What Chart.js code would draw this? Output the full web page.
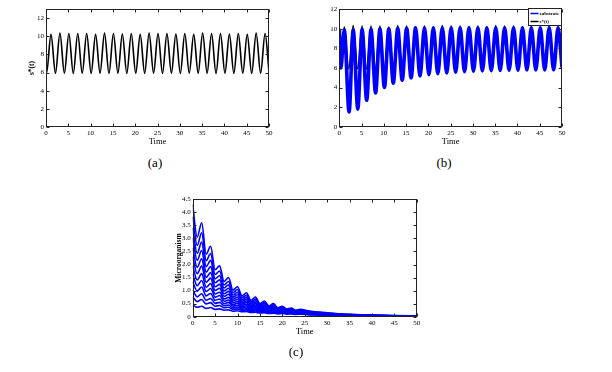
<!DOCTYPE html>
<html>
<head>
<meta charset="utf-8">
<script src="https://cdn.jsdelivr.net/npm/chart.js@4.4.1/dist/chart.umd.min.js"></script>
<style>
  html, body { margin: 0; padding: 0; background: #fff; }
  body { width: 612px; height: 372px; position: relative; overflow: hidden; }
  canvas { position: absolute; }
  .cap { position: absolute; font-family: 'Liberation Serif', 'DejaVu Serif', serif; font-size: 13px; color: #000; transform: translate(-50%, -50%); white-space: nowrap; }
</style>
</head>
<body>
<canvas id="ca" width="300" height="150" style="left:0px;top:0px;width:300px;height:150px"></canvas>
<canvas id="cb" width="300" height="150" style="left:310px;top:0px;width:300px;height:150px"></canvas>
<canvas id="cc" width="300" height="187" style="left:150px;top:185px;width:300px;height:187px"></canvas>
<div class="cap" style="left:155px;top:163px">(a)</div>
<div class="cap" style="left:444px;top:163px">(b)</div>
<div class="cap" style="left:296px;top:352px">(c)</div>
<script>
// ---------- DATA ----------
// s*(t): extreme points (time, value)
const sTime = [0,0.12,1.12,2.12,3.12,4.12,5.12,6.12,7.12,8.12,9.12,10.12,11.12,12.12,13.12,14.12,15.12,16.12,17.12,18.12,19.12,20.12,21.12,22.12,23.12,24.12,25.12,26.12,27.12,28.12,29.12,30.12,31.12,32.12,33.12,34.12,35.12,36.12,37.12,38.12,39.12,40.12,41.12,42.12,43.12,44.12,45.12,46.12,47.12,48.12,49.12,50];
const sValues = [6.0,5.95,10.2,5.9,10.35,5.92,10.3,5.9,10.3,5.93,10.3,5.9,10.2,5.92,10.35,5.9,10.3,5.93,10.25,5.9,10.3,5.92,10.2,5.9,10.35,5.93,10.3,5.9,10.3,5.92,10.25,5.9,10.3,5.93,10.2,5.9,10.35,5.92,10.3,5.9,10.3,5.93,10.25,5.9,10.3,5.92,10.2,5.9,10.35,5.92,10.3,6.1];

// substrate: extreme points
const subTime = [0,0.35,1.12,2.2,3.12,4.15,5.12,6.15,7.12,8.15,9.12,10.13,11.12,12.12,13.12,14.12,15.12,16.12,17.12,18.12,19.12,20.12,21.12,22.12,23.12,24.12,25.12,26.12,27.12,28.12,29.12,30.12,31.12,32.12,33.12,34.12,35.12,36.12,37.12,38.12,39.12,40.12,41.12,42.12,43.12,44.12,45.12,46.12,47.12,48.12,49.12,50];
const subValues = [10.0,6.0,9.9,1.5,9.9,1.8,9.95,2.7,9.95,3.45,10.0,4.0,10.0,4.45,10.05,4.75,10.05,5.0,10.1,5.18,10.1,5.32,10.1,5.42,10.1,5.5,10.1,5.57,10.1,5.63,10.1,5.67,10.1,5.7,10.1,5.73,10.1,5.75,10.1,5.77,10.1,5.78,10.1,5.8,10.1,5.8,10.1,5.81,10.1,5.82,10.1,6.05];

// microorganism curves, panel (c)
const cTime = [0,1,2,3,4,5,6,7,8,9,10,11,12,13,14,15,16,17,18,19,20,21,22,23,24,26,28,30,33,36,40,45,50];
const m1  = [4.30,3.05,3.60,2.40,2.70,1.80,1.95,1.35,1.50,1.02,1.15,0.80,0.92,0.63,0.75,0.50,0.60,0.41,0.50,0.34,0.40,0.29,0.33,0.25,0.28,0.22,0.18,0.15,0.11,0.085,0.06,0.04,0.03];
const m2  = [3.84,2.73,3.22,2.15,2.42,1.62,1.75,1.22,1.35,0.92,1.04,0.73,0.83,0.57,0.68,0.46,0.55,0.38,0.46,0.31,0.37,0.27,0.30,0.23,0.26,0.20,0.17,0.14,0.10,0.08,0.056,0.038,0.028];
const m3  = [3.41,2.43,2.86,1.92,2.16,1.45,1.57,1.10,1.22,0.83,0.94,0.66,0.75,0.52,0.62,0.42,0.50,0.34,0.42,0.29,0.34,0.25,0.28,0.21,0.24,0.19,0.15,0.13,0.094,0.074,0.052,0.035,0.027];
const m4  = [3.03,2.16,2.54,1.71,1.92,1.30,1.41,0.99,1.09,0.75,0.85,0.60,0.68,0.48,0.56,0.38,0.45,0.31,0.38,0.26,0.31,0.23,0.26,0.20,0.22,0.17,0.14,0.12,0.087,0.069,0.048,0.033,0.025];
const m5  = [2.64,1.89,2.22,1.51,1.69,1.15,1.24,0.88,0.97,0.67,0.75,0.54,0.61,0.43,0.50,0.35,0.41,0.29,0.34,0.24,0.28,0.21,0.24,0.18,0.20,0.16,0.13,0.11,0.080,0.064,0.045,0.031,0.024];
const m6  = [2.30,1.65,1.94,1.32,1.48,1.01,1.09,0.78,0.86,0.60,0.67,0.48,0.55,0.39,0.45,0.31,0.37,0.26,0.31,0.22,0.25,0.19,0.22,0.17,0.18,0.14,0.12,0.10,0.074,0.059,0.042,0.030,0.022];
const m7  = [1.95,1.41,1.65,1.13,1.27,0.87,0.94,0.68,0.74,0.53,0.59,0.43,0.48,0.34,0.40,0.28,0.33,0.23,0.27,0.20,0.23,0.17,0.20,0.15,0.17,0.13,0.11,0.089,0.067,0.055,0.039,0.028,0.021];
const m8  = [1.64,1.19,1.39,0.97,1.08,0.75,0.81,0.59,0.64,0.46,0.52,0.38,0.42,0.31,0.35,0.25,0.29,0.21,0.25,0.18,0.21,0.16,0.18,0.14,0.15,0.12,0.097,0.081,0.062,0.051,0.036,0.026,0.020];
const m9  = [1.34,0.98,1.14,0.80,0.89,0.63,0.68,0.50,0.55,0.40,0.44,0.33,0.37,0.27,0.30,0.22,0.25,0.19,0.22,0.16,0.18,0.14,0.16,0.13,0.14,0.105,0.088,0.073,0.056,0.047,0.033,0.025,0.018];
const m10 = [1.03,0.76,0.88,0.63,0.70,0.51,0.55,0.42,0.45,0.33,0.37,0.28,0.31,0.23,0.26,0.19,0.22,0.16,0.19,0.15,0.16,0.13,0.14,0.11,0.12,0.093,0.078,0.065,0.051,0.043,0.030,0.023,0.017];
const m11 = [0.76,0.58,0.66,0.49,0.54,0.40,0.43,0.34,0.36,0.28,0.30,0.24,0.26,0.20,0.22,0.17,0.19,0.14,0.16,0.13,0.14,0.12,0.13,0.10,0.11,0.082,0.070,0.058,0.046,0.039,0.028,0.022,0.016];
const m12 = [0.45,0.36,0.40,0.32,0.35,0.28,0.30,0.25,0.26,0.21,0.23,0.19,0.20,0.16,0.17,0.14,0.15,0.12,0.13,0.11,0.12,0.10,0.11,0.09,0.095,0.07,0.06,0.05,0.04,0.035,0.025,0.02,0.015];
const microSeries = [m1,m2,m3,m4,m5,m6,m7,m8,m9,m10,m11,m12];

// ---------- HELPERS ----------
const SERIF = "'Liberation Serif', 'DejaVu Serif', serif";
const toXY = (xs, ys) => xs.map((x, i) => ({x: x, y: ys[i]}));

const framePlugin = {
  id: 'frame',
  afterDatasetsDraw(chart) {
    const {ctx, chartArea} = chart;
    const l = Math.round(chartArea.left) + 0.5, r = Math.round(chartArea.right) - 0.5;
    const t = Math.round(chartArea.top) + 0.5, b = Math.round(chartArea.bottom) - 0.5;
    const xs = chart.scales.x, ys = chart.scales.y;
    ctx.save();
    ctx.strokeStyle = '#222';
    ctx.lineWidth = 1;
    ctx.strokeRect(l, t, r - l, b - t);
    ctx.beginPath();
    xs.ticks.forEach(tk => {
      const p = Math.round(xs.getPixelForValue(tk.value)) + 0.5;
      ctx.moveTo(p, b); ctx.lineTo(p, b - 3);
      ctx.moveTo(p, t); ctx.lineTo(p, t + 3);
    });
    ys.ticks.forEach(tk => {
      const p = Math.round(ys.getPixelForValue(tk.value)) + 0.5;
      ctx.moveTo(l, p); ctx.lineTo(l + 3, p);
      ctx.moveTo(r, p); ctx.lineTo(r - 3, p);
    });
    ctx.stroke();
    ctx.restore();
  }
};

const legendPlugin = {
  id: 'boxLegend',
  afterDraw(chart) {
    const {ctx, chartArea} = chart;
    const w = 33, h = 17;
    const x0 = Math.round(chartArea.right) - w - 0.5, y0 = Math.round(chartArea.top) - 0.5;
    ctx.save();
    ctx.fillStyle = '#fff';
    ctx.fillRect(x0, y0, w, h);
    ctx.strokeStyle = '#222';
    ctx.lineWidth = 1;
    ctx.strokeRect(x0, y0, w, h);
    ctx.font = 'bold 5px ' + SERIF;
    ctx.textBaseline = 'middle';
    ctx.textAlign = 'left';
    chart.data.datasets.forEach((ds, i) => {
      const yy = y0 + 5 + i * 8;
      ctx.strokeStyle = ds.borderColor;
      ctx.lineWidth = 1.5;
      ctx.beginPath(); ctx.moveTo(x0 + 2, yy); ctx.lineTo(x0 + 10, yy); ctx.stroke();
      ctx.fillStyle = '#000';
      ctx.fillText(ds.label, x0 + 11, yy);
    });
    ctx.restore();
  }
};

function axes(ymax, ystep, ytitle, ytitlePad) {
  return {
    x: {
      type: 'linear', min: 0, max: 50,
      grid: { display: false, drawTicks: false },
      border: { display: false },
      ticks: { stepSize: 5, padding: 2, color: '#000', font: { family: SERIF, size: 7 }, maxRotation: 0 },
      title: { display: true, text: 'Time', color: '#000', font: { family: SERIF, size: 8.5 }, padding: 0 },
      afterFit(s) { s.height = 20; }
    },
    y: {
      type: 'linear', min: 0, max: ymax,
      grid: { display: false, drawTicks: false },
      border: { display: false },
      ticks: { stepSize: ystep, includeBounds: false, padding: 2, color: '#000', font: { family: SERIF, size: 7 } },
      title: { display: !!ytitle, text: ytitle || '', color: '#000', font: { family: SERIF, size: 7.5, weight: 'bold' }, padding: { top: ytitlePad, bottom: 0 } },
      afterFit(s) { s.width = 20; }
    }
  };
}

function baseOptions(padding, scales) {
  return {
    responsive: false, animation: false, devicePixelRatio: 1,
    layout: { padding: padding },
    plugins: { legend: { display: false }, tooltip: { enabled: false } },
    elements: { point: { radius: 0 }, line: { cubicInterpolationMode: 'monotone', tension: 0.4 } },
    scales: scales
  };
}

// ---------- (a) ----------
new Chart(document.getElementById('ca'), {
  type: 'line',
  data: { datasets: [{ label: 's*(t)', data: toXY(sTime, sValues), borderColor: '#000', borderWidth: 1.6 }] },
  options: baseOptions({ left: 26, top: 9, right: 31, bottom: 3 }, axes(13, 2, 's*(t)', 1.5)),
  plugins: [framePlugin]
});

// ---------- (b) ----------
new Chart(document.getElementById('cb'), {
  type: 'line',
  data: { datasets: [
    { label: 'substrate', data: toXY(subTime, subValues), borderColor: '#0000ff', borderWidth: 3.6 },
    { label: 's*(t)', data: toXY(sTime, sValues), borderColor: '#000', borderWidth: 1.5 }
  ] },
  options: baseOptions({ left: 9.3, top: 9.3, right: 48, bottom: 3.3 }, axes(12, 2, '', 0)),
  plugins: [framePlugin, legendPlugin]
});

// ---------- (c) ----------
new Chart(document.getElementById('cc'), {
  type: 'line',
  data: { datasets: microSeries.map((arr, i) => ({
    label: 'curve ' + (i + 1), data: toXY(cTime, arr), borderColor: '#0000ff', borderWidth: 1.6
  })) },
  options: baseOptions({ left: 22.7, top: 14.3, right: 33.3, bottom: 35.3 }, axes(4.5, 0.5, 'Microorganism', 1.8)),
  plugins: [framePlugin]
});
</script>
</body>
</html>
